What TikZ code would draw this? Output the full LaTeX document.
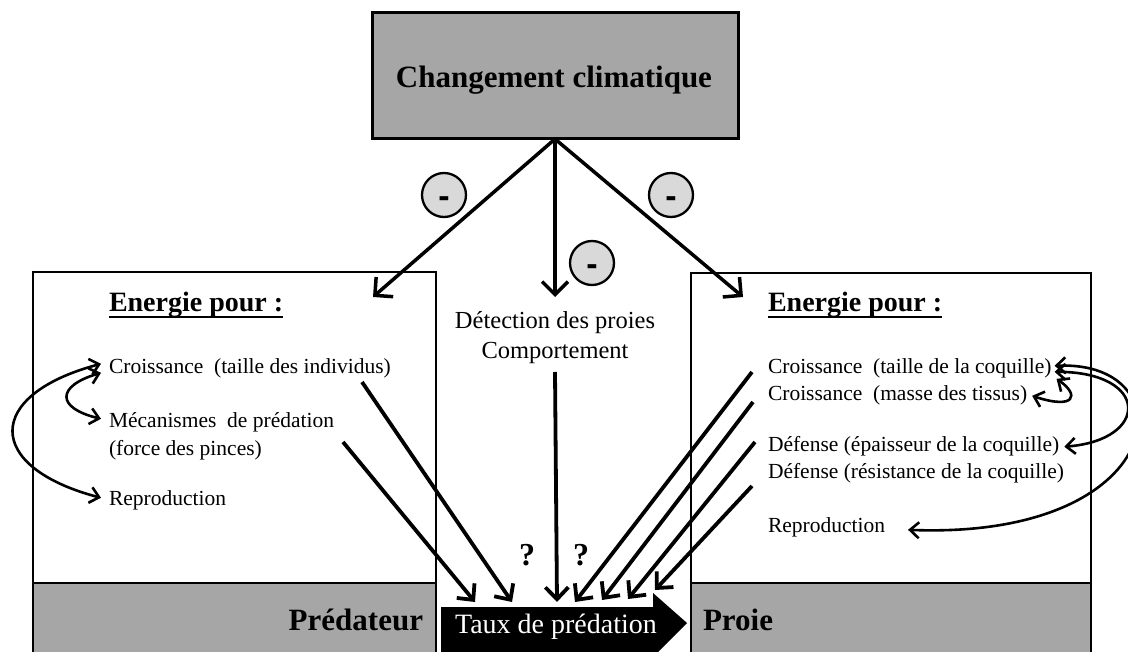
\documentclass[tikz,border=0pt]{standalone}
\usepackage{fontspec}
\setmainfont{Liberation Serif}
\setsansfont{Liberation Sans}
\usetikzlibrary{arrows.meta}
\definecolor{boxgray}{RGB}{166,166,166}
\definecolor{mingray}{RGB}{217,217,217}
\begin{document}
\begin{tikzpicture}[x=1pt,y=-1pt,
  every node/.style={inner sep=0pt, outer sep=0pt},
  txt/.style={anchor=base west, font=\fontsize{21.5}{25}\selectfont},
  ctxt/.style={anchor=base, font=\fontsize{24.5}{28}\selectfont},
  headtxt/.style={anchor=base west, font=\fontsize{28}{32}\selectfont\bfseries},
  bigtxt/.style={font=\fontsize{31}{36}\selectfont\bfseries},
  panel/.style={draw, line width=2pt, anchor=north west},
  minus/.style={circle, draw, line width=2.3pt, fill=mingray, minimum size=44pt,
    font=\fontsize{34}{36}\selectfont\sffamily\bfseries, text height=26pt, text depth=0pt},
  mainarr/.style={line width=3.5pt, -{Straight Barb[length=13pt,width=26pt]}},
  diagarr/.style={line width=3.8pt, -{Straight Barb[length=12pt,width=23pt]}},
  curvarr/.style={line width=2.6pt, {Straight Barb[length=9pt,width=16pt]}-{Straight Barb[length=9pt,width=16pt]}}
]
\useasboundingbox (0,0) rectangle (1128,652);
\fill[white] (0,0) rectangle (1128,652);

% panels
\node[panel, minimum width=403pt, minimum height=400pt] (predbox) at (33,272) {};
\node[panel, fill=boxgray, minimum width=403pt, minimum height=90pt] (predband) at (33,583) {};
\node[panel, minimum width=400pt, minimum height=400pt] (proiebox) at (691,273) {};
\node[panel, fill=boxgray, minimum width=400pt, minimum height=90pt] (proieband) at (691,583) {};

% top box
\node[draw, fill=boxgray, line width=3pt, minimum width=366pt, minimum height=126pt] (cc) at (555,76) {};
\node[bigtxt, anchor=base] (cctxt) at (554,88) {Changement climatique};

% predation rate arrow
\fill[black] (441,607) -- (653,607) -- (653,593) -- (687,623) -- (650,660) -- (441,660) -- cycle;
\node[anchor=base, text=white, font=\fontsize{28}{32}\selectfont] (taux) at (556,633) {Taux de prédation};

\node[bigtxt, anchor=base east] (pred) at (423,630) {Prédateur};
\node[bigtxt, anchor=base west] (proie) at (703,630) {Proie};

% left texts
\node[headtxt] (lep) at (109,312) {Energie pour :};
\draw[line width=1.6pt] ([yshift=-5pt]lep.base west) -- ([yshift=-5pt]lep.base east);
\node[txt] (lc) at (109,374) {Croissance\ \ (taille des individus)};
\node[txt] (lm) at (109,428) {Mécanismes\ \ de prédation};
\node[txt] (lf) at (109,455) {(force des pinces)};
\node[txt] (lr) at (109,505) {Reproduction};

% right texts
\node[headtxt] (rep) at (768,312) {Energie pour :};
\draw[line width=1.6pt] ([yshift=-5pt]rep.base west) -- ([yshift=-5pt]rep.base east);
\node[txt] (rc1) at (768,374) {Croissance\ \ (taille de la coquille)};
\node[txt] (rc2) at (768,401) {Croissance\ \ (masse des tissus)};
\node[txt] (rd1) at (768,452) {Défense (épaisseur de la coquille)};
\node[txt] (rd2) at (768,478) {Défense (résistance de la coquille)};
\node[txt] (rr) at (768,532) {Reproduction};

% center texts
\node[ctxt] (det) at (555,329) {Détection des proies};
\node[ctxt] (comp) at (555,359) {Comportement};

\node[anchor=base, font=\fontsize{32}{34}\selectfont\bfseries] (q1) at (527,565) {?};
\node[anchor=base, font=\fontsize{32}{34}\selectfont\bfseries] (q2) at (581,565) {?};

% minus circles
\node[minus] (m1) at (444,195) {-};
\node[minus] (m2) at (671,195) {-};
\node[minus] (m3) at (592,263) {-};

% coordinates
\coordinate (a1) at (373,297);
\coordinate (a2) at (555,297);
\coordinate (a3) at (743,297);
\coordinate (s1) at (343,442);
\coordinate (s2) at (362,382);
\coordinate (s3) at (555,372);
\coordinate (s4) at (752,372);
\coordinate (s5) at (753,402);
\coordinate (s6) at (755,442);
\coordinate (s7) at (752,486);
\coordinate (t1) at (475,602);
\coordinate (t2) at (512,602);
\coordinate (t3) at (557,602);
\coordinate (t4) at (575,602);
\coordinate (t5) at (602,600);
\coordinate (t6) at (628,599);
\coordinate (t7) at (655,590);

% arrows from climate change
\draw[mainarr] (cc.south) -- (a1);
\draw[mainarr] (cc.south) -- (a2);
\draw[mainarr] (cc.south) -- (a3);

% arrows to predation rate
\draw[diagarr] (s1) -- (t1);
\draw[diagarr] (s2) -- (t2);
\draw[diagarr] (s3) -- (t3);
\draw[diagarr] (s4) -- (t4);
\draw[diagarr] (s5) -- (t5);
\draw[diagarr] (s6) -- (t6);
\draw[diagarr] (s7) -- (t7);

% left trade-off curves
\draw[curvarr] ([xshift=-8pt,yshift=5pt]lc.west) .. controls (-16,395) and (-16,467) .. ([xshift=-8pt,yshift=2pt]lr.west);
\draw[curvarr] ([xshift=-8pt,yshift=-4pt]lc.west) .. controls (56,386) and (56,408) .. ([xshift=-8pt,yshift=4pt]lm.west);

% right trade-off curves
\draw[curvarr] ([xshift=3pt,yshift=3pt]rc1.east) .. controls (1190,360) and (1170,540) .. ([xshift=23pt,yshift=-3pt]rr.east);
\draw[curvarr] ([xshift=3pt,yshift=-3pt]rc1.east) .. controls (1150,372) and (1150,440) .. ([xshift=5pt]rd1.east);
\draw[curvarr] ([xshift=5pt,yshift=-10pt]rc1.east) .. controls (1080,395) and (1075,410) .. ([xshift=5pt]rc2.east);
\end{tikzpicture}
\end{document}
